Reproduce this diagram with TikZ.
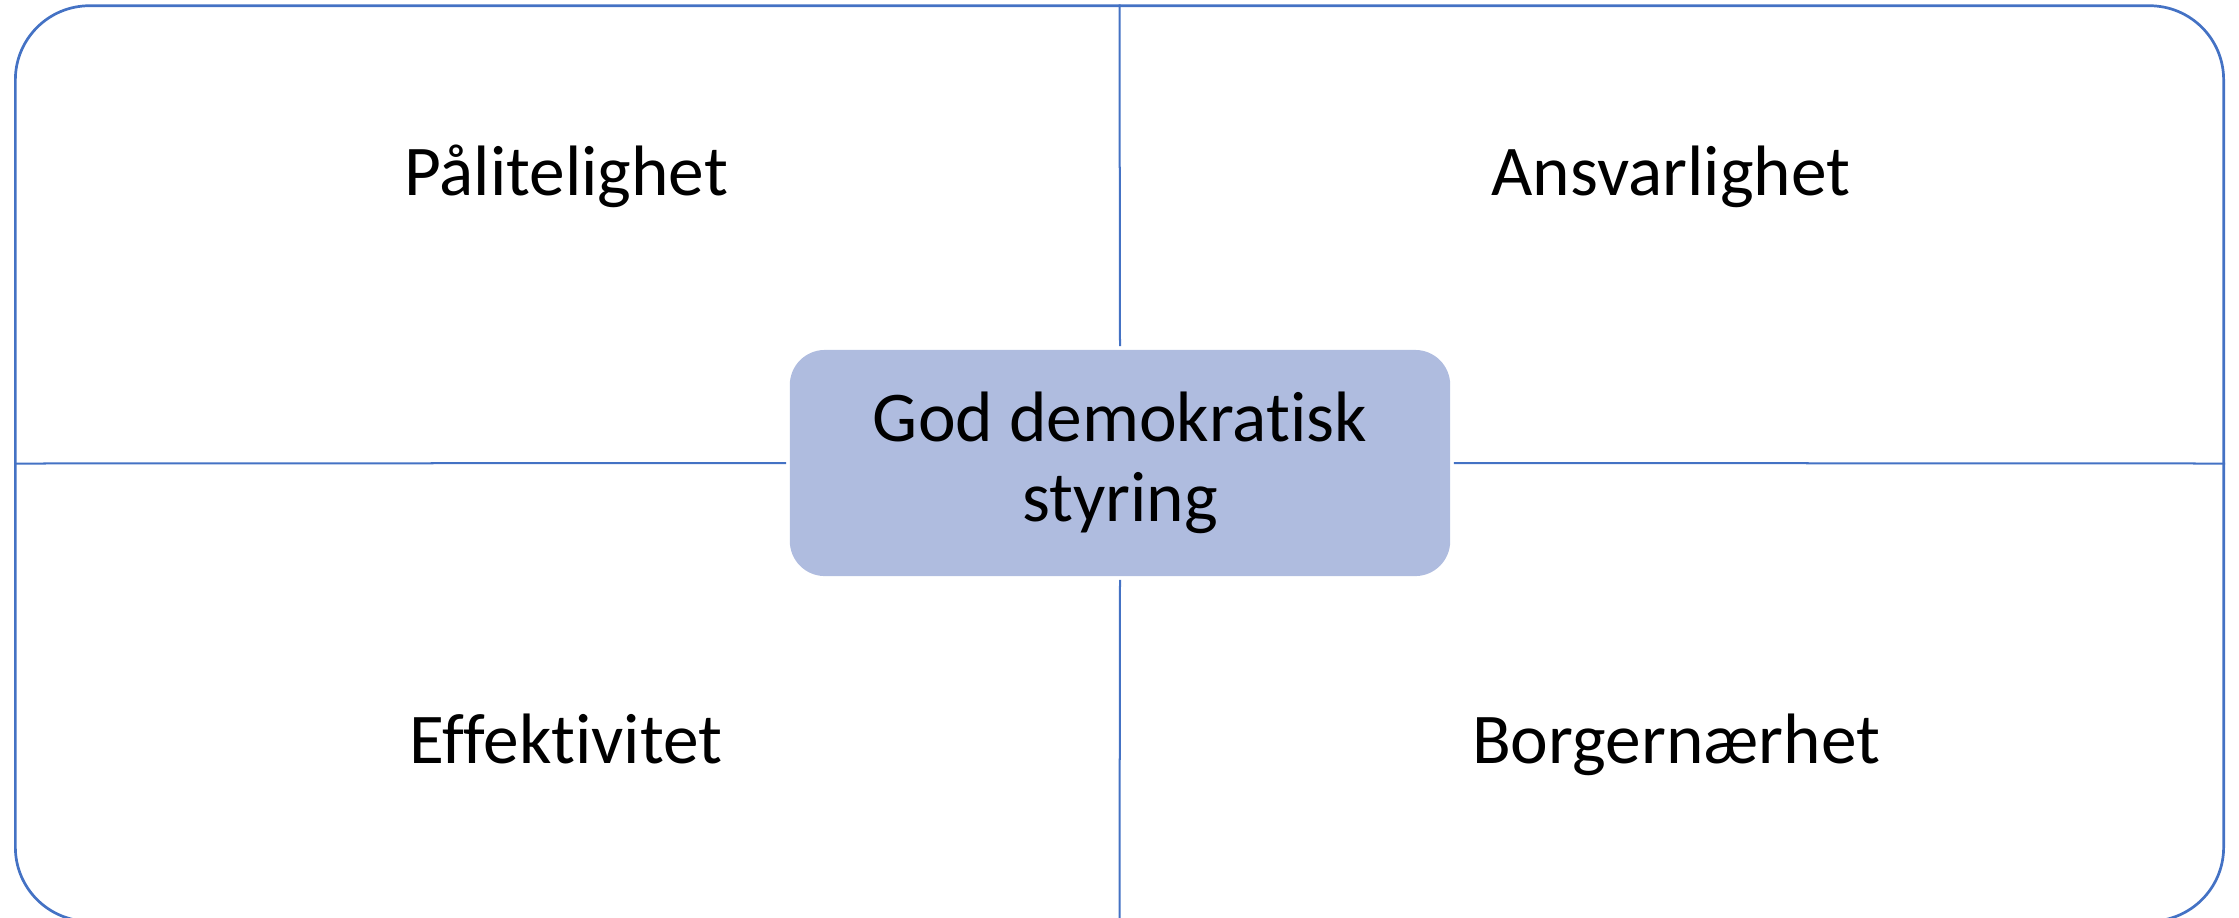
\documentclass[tikz,border=0pt]{standalone}
\usepackage{fontspec}
\setmainfont{Carlito}[Ligatures={NoCommon,NoRequired,NoContextual}]
\usetikzlibrary{positioning}
\definecolor{frameblue}{RGB}{68,114,196}
\definecolor{corefill}{RGB}{175,188,223}
\tikzset{
	frame/.style={draw=frameblue,line width=0.027cm,rounded corners=0.74cm,
		minimum width=22.07cm,minimum height=9.15cm,inner sep=0pt},
	core/.style={fill=corefill,draw=none,rounded corners=0.35cm,
		minimum width=6.6cm,minimum height=2.26cm,align=center,inner sep=0pt,
		font=\fontsize{20.3}{22.8}\selectfont},
	quadrant/.style={anchor=base,inner sep=0pt,font=\fontsize{20.3}{22.8}\selectfont},
	divider/.style={draw=frameblue,line width=0.02cm,shorten >=0.03cm}
}

\begin{document}
\begin{tikzpicture}[x=0.01cm,y=-0.01cm]
	\useasboundingbox (0,0) rectangle (2239,917);
	
	\node[frame] (box) at (1119.5,463.5) {};
	\node[core] (core) at (1120,463) {God demokratisk\\styring};
	
	\node[quadrant] (pal) at (566,195) {Pålitelighet};
	\node[quadrant] (ans) at (1671,195) {Ansvarlighet};
	\node[quadrant] (eff) at (566,763) {Effektivitet};
	\node[quadrant] (bor) at (1676,763) {Borgernærhet};
	
	
	\path[divider] (box.north) -- (core.north);
	\path[divider] (box.south) -- (core.south);
	\path[divider] (box.west) -- (core.west);
	\path[divider] (box.east) -- (core.east);
	
	
\end{tikzpicture}
\end{document}
